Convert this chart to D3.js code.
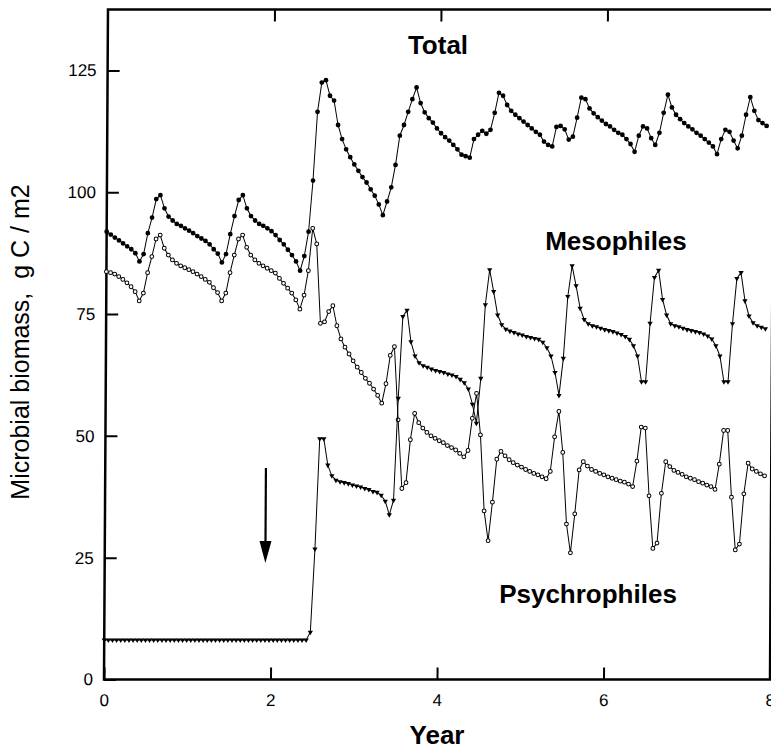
<!DOCTYPE html>
<html>
<head>
<meta charset="utf-8">
<script src="https://cdn.jsdelivr.net/npm/d3@7"></script>
<style>
    body { margin: 0; background: #fff; }
    svg { display: block; }
    .tick text { font-family: "Liberation Sans", Arial, sans-serif; font-size: 17px; fill: #000; }
    .tick line { stroke: #000; stroke-width: 2; }
    .lbl { font-family: "Liberation Sans", Arial, sans-serif; font-weight: bold; font-size: 26px; }
</style>
</head>
<body>
<svg id="chart" width="771" height="749"></svg>
<script>
'use strict';

// model output every ~18 days (years between samples)
var step = 0.0495;

var xTicks = [0, 2, 4, 6, 8];
var yTicks = [0, 25, 50, 75, 100, 125];

var seriesNames = ['Total', 'Mesophiles', 'Psychrophiles'];

// g C / m2, filled circles
var total = [
    91.9, 91.3, 90.7, 90.1, 89.5, 88.9, 88.3, 87.5, 85.8, 87.3,
    91.6, 94.8, 98.6, 99.4, 96.7, 95.0, 94.2, 93.5, 93.1, 92.6,
    92.1, 91.6, 91.0, 90.5, 90.0, 89.3, 88.3, 87.4, 85.6, 87.3,
    91.4, 95.1, 98.4, 99.4, 96.7, 95.1, 94.2, 93.5, 93.1, 92.6,
    92.0, 91.2, 90.2, 89.3, 88.2, 87.1, 85.8, 83.9, 86.9, 91.9,
    102.4, 116.5, 122.5, 123.0, 119.8, 118.8, 113.8, 110.9, 108.8, 107.2,
    105.7, 104.4, 103.1, 102.0, 100.6, 99.3, 97.5, 95.3, 98.1, 101.0,
    105.6, 111.6, 113.8, 116.5, 119.1, 121.5, 118.3, 116.4, 115.2, 114.3,
    113.1, 112.1, 111.3, 110.6, 109.7, 108.8, 107.7, 107.4, 107.1, 110.9,
    111.8, 112.6, 112.0, 112.8, 116.3, 120.4, 119.8, 117.9, 116.7, 115.9,
    115.2, 114.5, 113.8, 113.1, 112.4, 111.8, 110.4, 109.7, 109.4, 113.4,
    113.6, 112.9, 110.8, 111.4, 115.3, 119.4, 119.1, 117.2, 116.2, 115.4,
    114.7, 114.0, 113.5, 112.8, 112.2, 111.8, 110.9, 109.9, 108.3, 111.6,
    113.5, 113.1, 111.1, 109.7, 112.2, 116.3, 120.0, 117.4, 115.9, 115.0,
    114.2, 113.5, 112.9, 112.2, 111.6, 110.9, 110.2, 109.4, 107.8, 110.9,
    112.8, 112.4, 110.6, 109.0, 111.6, 115.9, 119.5, 116.7, 114.8, 114.2,
    113.6
];

// filled triangles
var mesophiles = [
    8.1, 8.1, 8.1, 8.1, 8.1, 8.1, 8.1, 8.1, 8.1, 8.1,
    8.1, 8.1, 8.1, 8.1, 8.1, 8.1, 8.1, 8.1, 8.1, 8.1,
    8.1, 8.1, 8.1, 8.1, 8.1, 8.1, 8.1, 8.1, 8.1, 8.1,
    8.1, 8.1, 8.1, 8.1, 8.1, 8.1, 8.1, 8.1, 8.1, 8.1,
    8.1, 8.1, 8.1, 8.1, 8.1, 8.1, 8.1, 8.1, 8.1, 8.1,
    9.7, 26.8, 49.4, 49.4, 44.0, 41.8, 40.9, 40.6, 40.4, 40.2,
    39.9, 39.7, 39.5, 39.2, 39.0, 38.6, 38.4, 37.8, 36.6, 33.8,
    36.8, 57.7, 74.5, 75.8, 69.3, 66.4, 65.0, 64.4, 64.1, 63.7,
    63.4, 63.2, 63.0, 62.7, 62.5, 62.2, 61.6, 60.9, 59.6, 56.5,
    52.6, 61.8, 76.9, 84.1, 79.6, 74.8, 72.8, 71.9, 71.5, 71.2,
    70.9, 70.7, 70.4, 70.2, 70.0, 69.8, 69.2, 68.1, 66.4, 63.0,
    58.3, 65.9, 78.6, 84.9, 80.8, 76.2, 73.9, 73.0, 72.6, 72.4,
    72.1, 71.8, 71.6, 71.4, 71.1, 70.8, 70.4, 69.8, 68.5, 66.4,
    61.1, 61.1, 73.1, 82.5, 84.0, 78.0, 74.8, 73.0, 72.6, 72.4,
    72.1, 71.8, 71.6, 71.4, 71.2, 70.9, 70.5, 69.9, 68.5, 66.4,
    61.1, 61.1, 73.0, 82.3, 83.5, 77.7, 74.6, 73.2, 72.6, 72.3,
    72.0
];

// open circles
var psychrophiles = [
    83.7, 83.5, 83.2, 82.7, 82.1, 81.4, 80.6, 79.6, 77.7, 79.3,
    83.5, 86.8, 90.4, 91.2, 88.5, 87.1, 86.1, 85.4, 84.9, 84.5,
    84.1, 83.7, 83.2, 82.7, 82.1, 81.5, 80.4, 79.4, 77.7, 79.3,
    83.5, 87.1, 90.4, 91.2, 88.7, 87.1, 86.1, 85.4, 84.9, 84.4,
    83.9, 83.4, 82.3, 81.3, 80.3, 79.3, 77.9, 76.0, 78.9, 83.9,
    92.6, 89.4, 73.1, 73.4, 75.5, 76.7, 72.6, 69.9, 68.2, 66.8,
    65.4, 64.1, 63.0, 61.8, 60.8, 59.6, 58.3, 56.7, 60.7, 66.5,
    68.3, 53.3, 39.2, 40.4, 49.2, 54.6, 52.7, 51.6, 50.7, 50.0,
    49.5, 49.0, 48.6, 48.0, 47.6, 47.1, 46.4, 45.7, 47.0, 53.6,
    58.7, 50.2, 34.6, 28.5, 36.4, 45.2, 46.8, 45.9, 45.1, 44.5,
    44.0, 43.6, 43.1, 42.7, 42.3, 42.0, 41.6, 41.2, 42.7, 49.8,
    55.0, 46.6, 31.9, 26.0, 34.0, 43.0, 44.7, 43.8, 43.1, 42.7,
    42.3, 42.0, 41.6, 41.3, 41.0, 40.7, 40.5, 40.1, 39.6, 44.8,
    51.8, 51.6, 37.7, 26.9, 28.0, 38.2, 44.7, 43.7, 42.9, 42.5,
    42.1, 41.6, 41.3, 41.0, 40.6, 40.3, 39.9, 39.6, 39.0, 44.2,
    51.1, 51.1, 37.4, 26.6, 27.8, 38.1, 44.4, 43.2, 42.7, 42.2,
    41.8
];

// warming event marker (year, biomass from -> to)
var arrowAt = { year: 1.93, from: 43.4, to: 23.9 };

var svg = d3.select('#chart');

var x = d3.scaleLinear().domain([0, 8]).range([104, 770]);
var y = d3.scaleLinear().domain([0, 137.5]).range([679.5, 9.5]);

// the scanned original leans slightly to the right towards the top
var plot = svg.append('g')
    .attr('transform', 'translate(0,679.5) skewX(-0.34) translate(0,-679.5)');

// frame
plot.append('rect')
    .attr('x', x(0))
    .attr('y', y(137.5))
    .attr('width', x(8) - x(0))
    .attr('height', y(0) - y(137.5))
    .attr('fill', 'none')
    .attr('stroke', '#000')
    .attr('stroke-width', 2.5);

// axes, ticks point inward
plot.append('g')
    .attr('transform', 'translate(0,' + y(0) + ')')
    .call(d3.axisBottom(x).tickValues(xTicks).tickSizeInner(-12).tickSizeOuter(0).tickPadding(14))
    .call(function (g) { g.select('.domain').remove(); });

plot.append('g')
    .attr('transform', 'translate(0,' + y(137.5) + ')')
    .call(d3.axisTop(x).tickValues([2, 4, 6]).tickSizeInner(-12).tickSizeOuter(0).tickFormat(''))
    .call(function (g) { g.select('.domain').remove(); });

plot.append('g')
    .attr('transform', 'translate(' + x(0) + ',0)')
    .call(d3.axisLeft(y).tickValues(yTicks).tickSizeInner(-12).tickSizeOuter(0).tickPadding(11))
    .call(function (g) { g.select('.domain').remove(); });

var line = d3.line()
    .x(function (d, i) { return x(i * step); })
    .y(function (d) { return y(d); });

function drawLine(values) {
    plot.append('path')
        .datum(values)
        .attr('fill', 'none')
        .attr('stroke', '#000')
        .attr('stroke-width', 1)
        .attr('d', line);
}

// psychrophiles: open circles
drawLine(psychrophiles);
plot.append('g').selectAll('circle')
    .data(psychrophiles)
    .join('circle')
    .attr('cx', function (d, i) { return x(i * step); })
    .attr('cy', function (d) { return y(d); })
    .attr('r', 1.9)
    .attr('fill', '#fff')
    .attr('stroke', '#000')
    .attr('stroke-width', 1);

// mesophiles: filled triangles pointing down
drawLine(mesophiles);
var tri = d3.symbol().type(d3.symbolTriangle).size(12);
plot.append('g').selectAll('path')
    .data(mesophiles)
    .join('path')
    .attr('d', tri)
    .attr('transform', function (d, i) {
        return 'translate(' + x(i * step) + ',' + y(d) + ') rotate(180)';
    })
    .attr('fill', '#000');

// total: filled circles
drawLine(total);
plot.append('g').selectAll('circle')
    .data(total)
    .join('circle')
    .attr('cx', function (d, i) { return x(i * step); })
    .attr('cy', function (d) { return y(d); })
    .attr('r', 2.4)
    .attr('fill', '#000');

// arrow
var ax = x(arrowAt.year);
plot.append('line')
    .attr('x1', ax).attr('x2', ax)
    .attr('y1', y(arrowAt.from))
    .attr('y2', y(arrowAt.to) - 16)
    .attr('stroke', '#000')
    .attr('stroke-width', 2.2);
plot.append('path')
    .attr('d', 'M' + (ax - 6) + ',' + (y(arrowAt.to) - 22) +
        'L' + (ax + 6) + ',' + (y(arrowAt.to) - 22) +
        'L' + ax + ',' + y(arrowAt.to) + 'Z')
    .attr('fill', '#000');

// series labels
var labelPos = [[438, 54], [616, 250], [588, 603]];
svg.append('g').selectAll('text')
    .data(seriesNames)
    .join('text')
    .attr('class', 'lbl')
    .attr('text-anchor', 'middle')
    .attr('x', function (d, i) { return labelPos[i][0]; })
    .attr('y', function (d, i) { return labelPos[i][1]; })
    .text(function (d) { return d; });

svg.append('text')
    .attr('class', 'lbl')
    .attr('text-anchor', 'middle')
    .attr('x', 437)
    .attr('y', 744)
    .text('Year');

svg.append('text')
    .attr('transform', 'translate(29,342) rotate(-90)')
    .attr('text-anchor', 'middle')
    .style('white-space', 'pre')
    .style('font-family', '"Liberation Sans", Arial, sans-serif')
    .style('font-size', '25px')
    .text('Microbial biomass,  g C / m2');
</script>
</body>
</html>
